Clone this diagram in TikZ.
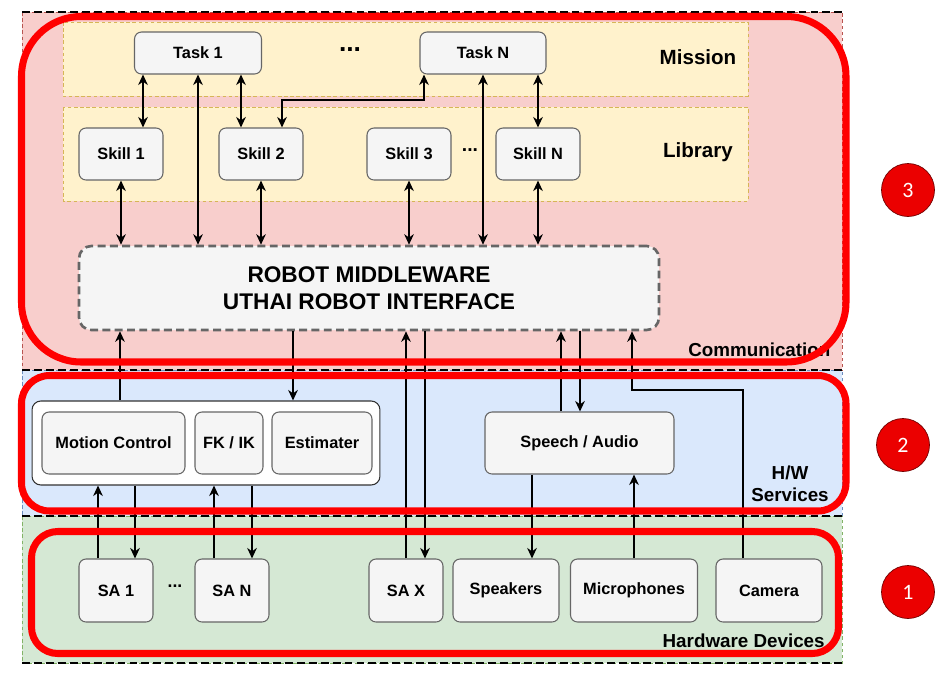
\documentclass[tikz,border=0pt]{standalone}
\usepackage{fontspec}
\setmainfont{Liberation Sans}
\newfontfamily\numfont{Carlito}
\usetikzlibrary{arrows.meta}

\definecolor{commfill}{HTML}{F8CECC}
\definecolor{commdraw}{HTML}{B85450}
\definecolor{hwfill}{HTML}{DAE8FC}
\definecolor{hwdraw}{HTML}{6C8EBF}
\definecolor{devfill}{HTML}{D5E8D4}
\definecolor{devdraw}{HTML}{82B366}
\definecolor{bandfill}{HTML}{FFF2CC}
\definecolor{banddraw}{HTML}{D6B656}
\definecolor{boxfill}{HTML}{F5F5F5}
\definecolor{boxdraw}{HTML}{666666}

\begin{document}
\begin{tikzpicture}[x=0.02cm,y=-0.02cm,
        box/.style={rectangle,rounded corners=4pt,fill=boxfill,draw=boxdraw,line width=0.6pt,inner sep=1pt,
            font=\fontsize{9.3}{11}\selectfont\bfseries},
        mwbox/.style={rectangle,rounded corners=7pt,fill=boxfill,draw=boxdraw,line width=1.5pt,
            dash pattern=on 4.5pt off 2.5pt,align=center,font=\fontsize{12.9}{15.3}\selectfont\bfseries},
        groupbox/.style={rectangle,rounded corners=5pt,fill=white,draw=black!80,line width=0.6pt},
        layer/.style={line width=0.4pt,dash pattern=on 2pt off 1.5pt},
        sep/.style={line width=1.5pt,dash pattern=on 4.5pt off 2.3pt},
        redframe/.style={draw=red,line width=4pt},
        badge/.style={circle,fill=red!92!black,draw=red!45!black,line width=0.4pt,minimum size=1.06cm,inner sep=0pt,
            text=white,font=\numfont\fontsize{12.5}{14}\selectfont},
        llabel/.style={font=\fontsize{10.7}{12.5}\selectfont\bfseries,inner sep=0pt,align=center},
        blabel/.style={font=\fontsize{11.7}{14}\selectfont\bfseries,inner sep=0pt},
        dots/.style={font=\bfseries,inner sep=0pt},
        link/.style={line width=0.9pt,>={Stealth[length=6pt,width=5.5pt]}}
    ]
    \useasboundingbox (0,0) rectangle (947,684);
    \fill[white] (0,0) rectangle (947,684);

    %--- layers ---
    \draw[layer,draw=commdraw,fill=commfill] (22,12) rectangle (842,370);
    \draw[layer,draw=hwdraw,fill=hwfill] (22,370) rectangle (842,516);
    \draw[layer,draw=devdraw,fill=devfill] (22,516) rectangle (842,663);
    \draw[layer,draw=banddraw,fill=bandfill] (63,22) rectangle (748,96);
    \draw[layer,draw=banddraw,fill=bandfill] (63,107) rectangle (748,201);
    \foreach \y in {12,370,516,663}
        \draw[sep] (22,\y) -- (842,\y);

    %--- mission / library ---
    \node[box,minimum width=2.54cm,minimum height=0.84cm] (task1) at (198,53) {Task 1};
    \node[box,minimum width=2.52cm,minimum height=0.84cm] (taskN) at (483,53) {Task N};
    \node[dots,font=\fontsize{15}{16}\selectfont\bfseries] (tdots) at (350,50) {...};
    \node[box,minimum width=1.68cm,minimum height=1.04cm] (skill1) at (121,154) {Skill 1};
    \node[box,minimum width=1.68cm,minimum height=1.04cm] (skill2) at (261,154) {Skill 2};
    \node[box,minimum width=1.68cm,minimum height=1.04cm] (skill3) at (409,154) {Skill 3};
    \node[box,minimum width=1.68cm,minimum height=1.04cm] (skillN) at (538,154) {Skill N};
    \node[dots,font=\fontsize{11}{12}\selectfont\bfseries] (sdots) at (470,150) {...};
    \node[blabel] (mission) at (698,57) {Mission};
    \node[blabel] (library) at (698,152) {Library};

    %--- middleware ---
    \node[mwbox,minimum width=11.6cm,minimum height=1.68cm] (mw) at (369,288)
        {ROBOT MIDDLEWARE\\UTHAI ROBOT INTERFACE};
    \node[llabel,anchor=west] (comm) at (688,350) {Communication};

    %--- h/w services ---
    \node[groupbox,minimum width=6.96cm,minimum height=1.68cm] (group) at (206,443) {};
    \node[box,minimum width=2.86cm,minimum height=1.24cm] (motion) at (113.5,443) {Motion Control};
    \node[box,minimum width=1.36cm,minimum height=1.24cm] (fkik) at (229,443) {FK / IK};
    \node[box,minimum width=2.0cm,minimum height=1.24cm] (estim) at (322,443) {Estimater};
    \node[box,minimum width=3.78cm,minimum height=1.24cm] (speech) at (579.5,443) {Speech / Audio};
    \node[llabel] (hwsrv) at (790,484) {H/W\\Services};

    %--- hardware devices ---
    \node[box,minimum width=1.48cm,minimum height=1.26cm] (sa1) at (116,590.5) {SA 1};
    \node[dots,font=\fontsize{10}{12}\selectfont\bfseries] (hdots) at (175,586) {...};
    \node[box,minimum width=1.48cm,minimum height=1.26cm] (saN) at (232,590.5) {SA N};
    \node[box,minimum width=1.48cm,minimum height=1.26cm] (saX) at (406,590.5) {SA X};
    \node[box,minimum width=2.12cm,minimum height=1.26cm] (speakers) at (506,590.5) {Speakers};
    \node[box,minimum width=2.54cm,minimum height=1.26cm] (mic) at (634,590.5) {Microphones};
    \node[box,minimum width=2.12cm,minimum height=1.26cm] (camera) at (769,590.5) {Camera};
    \node[llabel,anchor=east] (hwdev) at (825,641) {Hardware Devices};

    %--- links ---
    \draw[link,<->] (task1.south -| 143,0) -- (skill1.north -| 143,0);
    \draw[link,<->] (task1.south -| 241,0) -- (skill2.north -| 241,0);
    \draw[link,<->] (skill2.north -| 282,0) -- (282,100) -- (424,100) -- (taskN.south -| 424,0);
    \draw[link,<->] (taskN.south -| 538,0) -- (skillN.north);
    \draw[link,<->] (task1.south) -- (task1.south |- mw.north);
    \draw[link,<->] (taskN.south) -- (taskN.south |- mw.north);
    \draw[link,<->] (skill1.south) -- (skill1.south |- mw.north);
    \draw[link,<->] (skill2.south) -- (skill2.south |- mw.north);
    \draw[link,<->] (skill3.south) -- (skill3.south |- mw.north);
    \draw[link,<->] (skillN.south) -- (skillN.south |- mw.north);

    \draw[link,->] (group.north -| 120,0) -- (mw.south -| 120,0);
    \draw[link,->] (mw.south -| 293,0) -- (group.north -| 293,0);
    \draw[link,->] (saX.north) -- (saX.north |- mw.south);
    \draw[link,->] (mw.south -| 425,0) -- (saX.north -| 425,0);
    \draw[link,->] (speech.north -| 561,0) -- (mw.south -| 561,0);
    \draw[link,->] (mw.south -| 580,0) -- (speech.north -| 580,0);
    \draw[link,->] (camera.north -| 743,0) |- (632,390) -- (mw.south -| 632,0);
    \draw[link,->] (speech.south -| 532,0) -- (speakers.north -| 532,0);
    \draw[link,->] (mic.north) -- (mic.north |- speech.south);
    \draw[link,->] (sa1.north -| 98,0) -- (group.south -| 98,0);
    \draw[link,->] (group.south -| 135,0) -- (sa1.north -| 135,0);
    \draw[link,->] (saN.north -| 214,0) -- (group.south -| 214,0);
    \draw[link,->] (group.south -| 252,0) -- (saN.north -| 252,0);

    %--- frames ---
    \draw[redframe,rounded corners=34pt] (21.5,16.5) rectangle (846,362);
    \draw[redframe,rounded corners=16pt] (21.5,375.5) rectangle (846,511);
    \draw[redframe,rounded corners=15pt] (31.5,531.5) rectangle (838.5,653.5);
    \node[badge] (b3) at (908,190) {3};
    \node[badge] (b2) at (903,445) {2};
    \node[badge] (b1) at (908,592) {1};
\end{tikzpicture}
\end{document}
